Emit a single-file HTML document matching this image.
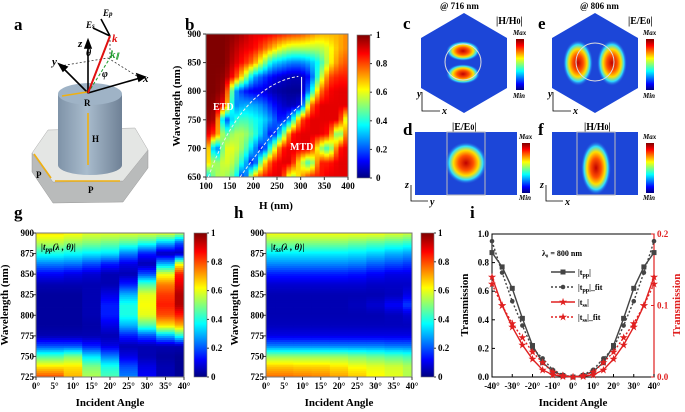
<!DOCTYPE html>
<html><head><meta charset="utf-8"><style>
html,body{margin:0;padding:0;background:#fff;}
svg{display:block;font-family:"Liberation Serif",serif;font-weight:bold;}
</style></head><body>
<svg id="fig" width="685" height="412" viewBox="0 0 685 412" xmlns="http://www.w3.org/2000/svg">
<defs>
<linearGradient id="jetV" x1="0" y1="1" x2="0" y2="0">
<stop offset="0" stop-color="#00007f"/><stop offset="0.12" stop-color="#0000ff"/><stop offset="0.37" stop-color="#00ffff"/><stop offset="0.62" stop-color="#ffff00"/><stop offset="0.87" stop-color="#ff0000"/><stop offset="1" stop-color="#7f0000"/>
</linearGradient>
<linearGradient id="cyl" x1="0" x2="1"><stop offset="0" stop-color="#7f93a8"/><stop offset="0.45" stop-color="#a9bccd"/><stop offset="1" stop-color="#6f8196"/></linearGradient>
<radialGradient id="hot"><stop offset="0" stop-color="#c00000"/><stop offset="0.35" stop-color="#ff5000"/><stop offset="0.6" stop-color="#ffe000"/><stop offset="0.8" stop-color="#30e0ff"/><stop offset="1" stop-color="#2050e0" stop-opacity="0"/></radialGradient>
</defs>

<g>
<text x="14" y="30" font-size="17">a</text>
<polygon points="32,153 53,182 123,181 148,150 148,168 123,202 53,203 32,172" fill="#b9bbbb" stroke="#999" stroke-width="0.5"/>
<polygon points="32,153 48,130 135,128 148,150 123,181 53,182" fill="#e4e6e4" stroke="#aaa" stroke-width="0.5"/>
<path d="M58,94 L58,165 A32,10 0 0 0 122,165 L122,94 Z" fill="url(#cyl)"/>
<ellipse cx="90" cy="94" rx="32" ry="11" fill="#9fb3c6"/>
<g stroke="#333" stroke-width="0.8" stroke-dasharray="2,2" fill="none">
<line x1="60" y1="66" x2="108" y2="58"/><line x1="108" y1="58" x2="140" y2="78"/><line x1="110" y1="36" x2="110" y2="58"/>
</g>
<line x1="88" y1="93" x2="110" y2="58" stroke="#1a9a2a" stroke-width="1" stroke-dasharray="3,2"/>
<g stroke="#000" stroke-width="1.6" fill="#000">
<line x1="88" y1="93" x2="88" y2="44"/><polygon points="88,40 85,48 91,48"/>
<line x1="88" y1="93" x2="62" y2="67"/><polygon points="59,64 67,67 63,71"/>
<line x1="88" y1="93" x2="140" y2="78"/><polygon points="145,77 137,74 139,81"/>
<line x1="110" y1="36" x2="101" y2="19"/><line x1="110" y1="36" x2="93" y2="28"/>
</g>
<line x1="88" y1="93" x2="110" y2="36" stroke="#e01010" stroke-width="2"/>
<g stroke="#f0b010" stroke-width="1.6">
<line x1="62" y1="96" x2="87" y2="92"/><line x1="88" y1="113" x2="88" y2="165"/>
<line x1="34" y1="154" x2="51" y2="178"/><line x1="55" y1="181" x2="120" y2="181"/>
</g>
<g font-size="9" fill="#000">
<text x="84" y="106">R</text><text x="92" y="142">H</text><text x="36" y="178">P</text><text x="88" y="193">P</text>
</g>
<g font-style="italic" font-size="11">
<text x="78" y="47">z</text><text x="52" y="65">y</text><text x="143" y="82">x</text>
<text x="112" y="42" fill="#e01010">k</text><text x="110" y="58" fill="#1a9a2a">k<tspan font-size="7">∥</tspan></text>
<text x="86" y="56" font-size="10">θ</text><text x="102" y="77" font-size="10">φ</text>
<text x="86" y="28" font-size="9">E<tspan font-size="7">s</tspan></text><text x="103" y="16" font-size="9">E<tspan font-size="7">p</tspan></text>
</g>
</g>

<g id="pb"></g>
<g id="pg"></g>
<g id="ph"></g>
<g id="pi"></g>

<g font-size="9">
<text x="403" y="29" font-size="17">c</text>
<text x="538" y="29" font-size="17">e</text>
<text x="403" y="135" font-size="17">d</text>
<text x="538" y="135" font-size="17">f</text>
<text x="440" y="9">@ 716 nm</text>
<text x="580" y="9">@ 806 nm</text>
<text x="496" y="24" font-size="10">|H/H<tspan font-size="8">0</tspan>|</text>
<text x="628" y="24" font-size="10">|E/E<tspan font-size="8">0</tspan>|</text>
<text x="452" y="130" font-size="10">|E/E<tspan font-size="8">0</tspan>|</text>
<text x="584" y="130" font-size="10">|H/H<tspan font-size="8">0</tspan>|</text>
<polygon points="464,13 507,38 507,88 464,113 421,88 421,38" fill="#1c46d8"/>
<ellipse cx="463" cy="51" rx="17" ry="10" fill="url(#hot)"/><ellipse cx="463" cy="74" rx="17" ry="10" fill="url(#hot)"/>
<circle cx="463" cy="62" r="18" fill="none" stroke="#ddd" stroke-width="1"/>
<polygon points="595,13 638,38 638,88 595,113 552,88 552,38" fill="#1c46d8"/>
<ellipse cx="578" cy="63" rx="15" ry="23" fill="url(#hot)"/><ellipse cx="612" cy="63" rx="15" ry="23" fill="url(#hot)"/>
<circle cx="595" cy="62" r="19" fill="none" stroke="#ddd" stroke-width="1"/>
<rect x="415" y="132" width="102" height="63" fill="#1c46d8"/>
<rect x="447" y="132" width="38" height="63" fill="none" stroke="#bbb" stroke-width="1"/>
<circle cx="466" cy="163" r="21" fill="url(#hot)"/>
<rect x="552" y="132" width="86" height="63" fill="#1c46d8"/>
<rect x="577" y="132" width="38" height="63" fill="none" stroke="#bbb" stroke-width="1"/>
<ellipse cx="596" cy="168" rx="15" ry="27" fill="url(#hot)"/>
<rect x="516" y="39" width="8" height="51" fill="url(#jetV)"/><rect x="646" y="39" width="8" height="51" fill="url(#jetV)"/>
<rect x="522" y="143" width="8" height="50" fill="url(#jetV)"/><rect x="646" y="143" width="8" height="50" fill="url(#jetV)"/>
<g font-style="italic" font-size="7">
<text x="513" y="35">Max</text><text x="513" y="98">Min</text><text x="643" y="35">Max</text><text x="643" y="98">Min</text>
<text x="519" y="139">Max</text><text x="519" y="200">Min</text><text x="643" y="139">Max</text><text x="643" y="200">Min</text>
</g>
<g stroke="#000" stroke-width="0.8" fill="none">
<polyline points="422,92 422,111 440,111"/><polyline points="553,92 553,111 571,111"/>
<polyline points="411,185 411,201 428,201"/><polyline points="546,185 546,201 563,201"/>
</g>
<g font-style="italic" font-size="10"><text x="417" y="97">y</text><text x="442" y="114">x</text><text x="548" y="97">y</text><text x="573" y="114">x</text>
<text x="405" y="188">z</text><text x="430" y="205">y</text><text x="540" y="188">z</text><text x="565" y="205">x</text></g>
</g>
</svg>
<script>
// ---------- Panel b data (columns = H, rows = wavelength 900 -> 650) ----------
const bH = [100,120,140,160,180,200,220,240,260,280,300,320,340,360,380,400];
const bWl = [900,875,850,825,800,775,750,725,700,675,650];
const bVals = [
[1,1,1,1,1,1,0.98,0.92,0.85,0.7,0.3],
[1,1,1,1,1,0.98,0.95,0.8,0.15,0.5,0.55],
[1,1,1,0.98,0.95,0.85,0.15,0.45,0.6,0.6,0.55],
[0.98,0.95,0.92,0.85,0.3,0.25,0.4,0.55,0.6,0.55,0.45],
[0.95,0.9,0.85,0.6,0.15,0.3,0.45,0.55,0.5,0.35,0.1],
[0.9,0.88,0.75,0.3,0.1,0.3,0.4,0.45,0.3,0.1,0.7],
[0.9,0.8,0.55,0.2,0.1,0.25,0.35,0.3,0.1,0.6,0.85],
[0.88,0.7,0.35,0.12,0.05,0.15,0.25,0.1,0.5,0.85,0.9],
[0.85,0.6,0.3,0.08,0.03,0.08,0.12,0.4,0.85,0.9,0.9],
[0.82,0.55,0.25,0.05,0.02,0.05,0.3,0.85,0.9,0.9,0.5],
[0.8,0.55,0.25,0.05,0.02,0.1,0.8,0.9,0.9,0.6,0.7],
[0.75,0.55,0.3,0.15,0.3,0.75,0.9,0.9,0.9,0.4,0.85],
[0.7,0.55,0.4,0.5,0.75,0.9,0.9,0.9,0.55,0.85,0.85],
[0.7,0.6,0.6,0.8,0.88,0.9,0.9,0.85,0.4,0.85,0.9],
[0.7,0.7,0.75,0.85,0.9,0.9,0.9,0.4,0.85,0.9,0.9],
[0.75,0.75,0.8,0.85,0.9,0.9,0.5,0.85,0.9,0.9,0.9]];
const bXTicks = [100,150,200,250,300,350,400];
const bYTicks = [650,700,750,800,850,900];

// ---------- Panels g/h data (columns = angle, rows = wavelength 900 -> 725) ----------
const ghAngles = [0,5,10,15,20,25,30,35,40];
const ghWl = [900,887.5,875,862.5,850,837.5,825,812.5,800,787.5,775,762.5,750,737.5,725];
const gVals = [
[0.65,0.55,0.4,0.25,0.12,0.05,0.03,0.03,0.03,0.03,0.05,0.2,0.45,0.65,0.8],
[0.65,0.55,0.4,0.25,0.12,0.05,0.03,0.03,0.03,0.03,0.05,0.2,0.45,0.65,0.8],
[0.63,0.52,0.38,0.24,0.1,0.05,0.03,0.03,0.03,0.03,0.05,0.2,0.5,0.65,0.7],
[0.6,0.5,0.36,0.2,0.08,0.05,0.05,0.05,0.05,0.04,0.05,0.15,0.35,0.5,0.55],
[0.6,0.48,0.35,0.15,0.05,0.05,0.1,0.15,0.15,0.1,0.05,0.1,0.25,0.4,0.45],
[0.6,0.45,0.25,0.1,0.05,0.15,0.3,0.4,0.4,0.3,0.15,0.05,0.1,0.2,0.25],
[0.6,0.4,0.15,0.05,0.2,0.45,0.6,0.62,0.6,0.45,0.2,0.05,0.05,0.1,0.12],
[0.6,0.3,0.05,0.3,0.6,0.75,0.82,0.85,0.8,0.65,0.3,0.05,0.03,0.05,0.05],
[0.55,0.2,0.05,0.6,0.85,0.9,0.95,0.95,0.85,0.7,0.4,0.05,0.02,0.02,0.02]];
const hVals = [
[0.62,0.5,0.36,0.26,0.15,0.08,0.05,0.05,0.05,0.06,0.1,0.25,0.52,0.68,0.77],
[0.62,0.5,0.36,0.26,0.15,0.08,0.05,0.05,0.05,0.06,0.1,0.25,0.52,0.68,0.77],
[0.62,0.5,0.36,0.26,0.15,0.08,0.05,0.05,0.05,0.06,0.1,0.25,0.52,0.67,0.76],
[0.62,0.5,0.36,0.26,0.15,0.08,0.05,0.05,0.05,0.06,0.1,0.25,0.52,0.67,0.75],
[0.62,0.5,0.36,0.26,0.15,0.08,0.05,0.05,0.05,0.06,0.1,0.25,0.52,0.65,0.72],
[0.62,0.48,0.35,0.25,0.14,0.08,0.05,0.06,0.05,0.06,0.1,0.25,0.5,0.62,0.68],
[0.62,0.46,0.33,0.22,0.12,0.07,0.05,0.08,0.05,0.06,0.1,0.25,0.48,0.6,0.63],
[0.6,0.44,0.3,0.2,0.1,0.07,0.06,0.12,0.06,0.06,0.1,0.24,0.46,0.58,0.6],
[0.58,0.42,0.28,0.18,0.1,0.07,0.1,0.18,0.08,0.06,0.1,0.24,0.44,0.55,0.55]];
const ghXTicks = [0,5,10,15,20,25,30,35,40];
const ghYTicks = [725,750,775,800,825,850,875,900];

// ---------- Panel i data ----------
const iAngles = [-40,-35,-30,-25,-20,-15,-10,-5,0,5,10,15,20,25,30,35,40];
const tpp = [0.87,0.77,0.62,0.41,0.22,0.10,0.04,0.01,0.0,0.01,0.04,0.10,0.22,0.41,0.62,0.77,0.87];
const tppFit = [0.95,0.73,0.53,0.36,0.20,0.13,0.05,0.015,0.0,0.015,0.05,0.13,0.20,0.36,0.53,0.73,0.95];
const tss = [0.14,0.10,0.07,0.045,0.025,0.01,0.003,0.001,0,0.001,0.003,0.01,0.025,0.045,0.07,0.10,0.14];
const tssFit = [0.13,0.10,0.075,0.055,0.035,0.02,0.007,0.002,0,0.002,0.007,0.02,0.035,0.055,0.075,0.10,0.13];
const iXTicks = [-40,-30,-20,-10,0,10,20,30,40];
const iYTicksL = [0,0.2,0.4,0.6,0.8,1.0];
const iYTicksR = [0,0.1,0.2];

const NS='http://www.w3.org/2000/svg';
function mk(parent,tag,attrs,text){const e=document.createElementNS(NS,tag);for(const k in attrs)e.setAttribute(k,attrs[k]);if(text!==undefined)e.textContent=text;parent.appendChild(e);return e;}
function jet(v){const c=x=>Math.round(255*Math.max(0,Math.min(1,x)));return `rgb(${c(1.5-Math.abs(4*v-3))},${c(1.5-Math.abs(4*v-2))},${c(1.5-Math.abs(4*v-1))})`;}
// linear interpolation of a column profile (rows descending)
function interpRow(rows,col,w){
  if(w>=rows[0])return col[0];
  for(let j=0;j<rows.length-1;j++){if(w<=rows[j]&&w>=rows[j+1]){const t=(rows[j]-w)/(rows[j]-rows[j+1]);return col[j]*(1-t)+col[j+1]*t;}}
  return col[col.length-1];
}
function interpCol(cols,vals,rows,h,w){
  if(h<=cols[0])return interpRow(rows,vals[0],w);
  for(let i=0;i<cols.length-1;i++){if(h>=cols[i]&&h<=cols[i+1]){const t=(h-cols[i])/(cols[i+1]-cols[i]);return interpRow(rows,vals[i],w)*(1-t)+interpRow(rows,vals[i+1],w)*t;}}
  return interpRow(rows,vals[vals.length-1],w);
}
function frame(g,x,y,w,h,col){const f=mk(g,'rect',{x:x,y:y,width:w,height:h,fill:'none',stroke:col||'#777','stroke-width':1});}
function cbar(g,x,y,w,h,lx){
  const r=mk(g,'rect',{x:x,y:y,width:w,height:h,fill:'url(#jetV)',stroke:'#777','stroke-width':0.6});
  
  
  ['0','0.2','0.4','0.6','0.8','1'].forEach((t,i)=>{const yy=y+h-i*h/5;mk(g,'line',{x1:x+w,x2:x+w+2,y1:yy,y2:yy,stroke:'#333'});
    const tl=mk(g,'text',{x:lx,y:yy+3,'font-size':9},t);});
}
function ylabel(g,x,y,t,col){const e=mk(g,'text',{x:x,y:y,'font-size':11,'text-anchor':'middle',transform:`rotate(-90 ${x} ${y})`,fill:col||'#000'},t);}
function xlabel(g,x,y,t){const e=mk(g,'text',{x:x,y:y,'font-size':11,'text-anchor':'middle'},t);}

// ---- Panel b ----
(function(){
  const g=document.getElementById('pb');
  const xs=h=>206+(h-100)/300*142, ys=w=>34+(900-w)/250*143;
  mk(g,'text',{x:185,y:30,'font-size':17},'b');
  const stepH=10, stepW=2.5;
  for(let h=100;h<400;h+=stepH){
    for(let w=900;w>650;w-=stepW){
      const v=interpCol(bH,bVals,bWl,h+stepH/2,w-stepW/2);
      const el=mk(g,'rect',{x:xs(h),y:ys(w),width:xs(h+stepH)-xs(h)+0.4,height:ys(w-stepW)-ys(w)+0.4,fill:jet(v)});
      
      
    }
  }
  frame(g,206,34,142,143);
  bXTicks.forEach(t=>{mk(g,'line',{x1:xs(t),x2:xs(t),y1:177,y2:180,stroke:'#333'});const e=mk(g,'text',{x:xs(t),y:189,'font-size':9,'text-anchor':'middle'},t);});
  bYTicks.forEach(t=>{mk(g,'line',{x1:203,x2:206,y1:ys(t),y2:ys(t),stroke:'#333'});const e=mk(g,'text',{x:201,y:ys(t)+3,'font-size':9,'text-anchor':'end'},t);});
  cbar(g,357,35,13,143,376);
  ylabel(g,180,106,'Wavelength (nm)');xlabel(g,276,209,'H (nm)');
  mk(g,'path',{d:`M${xs(105)},${ys(650)} Q${xs(175)},${ys(810)} ${xs(295)},${ys(826)}`,fill:'none',stroke:'#eee','stroke-dasharray':'3,2','stroke-width':1});
  mk(g,'path',{d:`M${xs(172)},${ys(650)} Q${xs(240)},${ys(730)} ${xs(298)},${ys(775)}`,fill:'none',stroke:'#eee','stroke-dasharray':'3,2','stroke-width':1});
  mk(g,'line',{x1:xs(302),x2:xs(302),y1:ys(825),y2:ys(775),stroke:'#fff','stroke-width':1});
  mk(g,'text',{x:213,y:110,'font-size':10,fill:'#fff'},'ETD');
  mk(g,'text',{x:290,y:150,'font-size':10,fill:'#fff'},'MTD');
})();

// ---- Panels g and h ----
function ghPanel(id,x0,w,vals,label,lab,cbx,title){
  const g=document.getElementById(id);
  const xs=a=>x0+a/40*w, ys=v=>233+(900-v)/175*144;
  mk(g,'text',{x:lab,y:218,'font-size':17},label);
  ghAngles.forEach((a,i)=>{
    const a0=Math.max(0,a-2.5), a1=Math.min(40,a+2.5);
    for(let wl=900;wl>725;wl-=2.5){
      const v=interpRow(ghWl,vals[i],wl-1.25);
      const el=mk(g,'rect',{x:xs(a0),y:ys(wl),width:xs(a1)-xs(a0)+0.4,height:ys(wl-2.5)-ys(wl)+0.4,fill:jet(v)});
      
      
    }
  });
  frame(g,x0,233,w,144);
  ghXTicks.forEach(t=>{mk(g,'line',{x1:xs(t),x2:xs(t),y1:377,y2:380,stroke:'#333'});const e=mk(g,'text',{x:xs(t),y:389,'font-size':9,'text-anchor':'middle'},t+'°');});
  ghYTicks.forEach(t=>{mk(g,'line',{x1:x0-3,x2:x0,y1:ys(t),y2:ys(t),stroke:'#333'});const e=mk(g,'text',{x:x0-2,y:ys(t)+3,'font-size':9,'text-anchor':'end'},t);});
  cbar(g,cbx,233,13,144,cbx+17);
  ylabel(g,x0-28,305,'Wavelength (nm)');xlabel(g,x0+w/2,406,'Incident Angle');
  const t=mk(g,'text',{x:x0+5,y:250,'font-size':9,'font-style':'italic'});t.innerHTML=title;
  
}
ghPanel('pg',36,148,gVals,'g',14,194,'|t<tspan font-size="7" dy="2">pp</tspan><tspan dy="-2">(λ , θ)|</tspan>');
ghPanel('ph',266,146,hVals,'h',234,421,'|t<tspan font-size="7" dy="2">ss</tspan><tspan dy="-2">(λ , θ)|</tspan>');

// ---- Panel i ----
(function(){
  const g=document.getElementById('pi');
  const xs=a=>492+(a+40)/80*162, yl=v=>377-v*143, yr=v=>377-v/0.2*143;
  mk(g,'text',{x:470,y:218,'font-size':17},'i');
  mk(g,'rect',{x:492,y:234,width:162,height:143,fill:'none',stroke:'#000','stroke-width':1});
  mk(g,'line',{x1:654,x2:654,y1:234,y2:377,stroke:'#e02020','stroke-width':1.2});
  iXTicks.forEach(t=>{mk(g,'line',{x1:xs(t),x2:xs(t),y1:377,y2:374,stroke:'#000'});const e=mk(g,'text',{x:xs(t),y:389,'font-size':9,'text-anchor':'middle'},t+'°');});
  iYTicksL.forEach(t=>{mk(g,'line',{x1:492,x2:495,y1:yl(t),y2:yl(t),stroke:'#000'});const e=mk(g,'text',{x:489,y:yl(t)+3,'font-size':9,'text-anchor':'end'},t.toFixed(1));});
  iYTicksR.forEach(t=>{mk(g,'line',{x1:651,x2:654,y1:yr(t),y2:yr(t),stroke:'#e02020'});const e=mk(g,'text',{x:657,y:yr(t)+3,'font-size':9,fill:'#e02020'},t.toFixed(1));});
  ylabel(g,468,305,'Transmission');ylabel(g,680,305,'Transmission','#e02020');xlabel(g,573,406,'Incident Angle');
  const series=[[tpp,yl,'#444','none','sq','tpp'],[tppFit,yl,'#444','2,2','ci','tpp-fit'],[tss,yr,'#e02020','none','st','tss'],[tssFit,yr,'#e02020','2,2','st','tss-fit']];
  series.forEach(([d,ys,col,dash,m,name])=>{
    const p=mk(g,'polyline',{points:iAngles.map((a,i)=>xs(a)+','+ys(d[i])).join(' '),fill:'none',stroke:col,'stroke-width':1.4,'stroke-dasharray':dash});
    
    
    iAngles.forEach((a,i)=>{let e;const X=xs(a),Y=ys(d[i]);
      if(m==='sq')e=mk(g,'rect',{x:X-2.5,y:Y-2.5,width:5,height:5,fill:col});
      else if(m==='ci')e=mk(g,'circle',{cx:X,cy:Y,r:2.3,fill:col});
      else e=mk(g,'text',{x:X,y:Y+3,'font-size':9,'text-anchor':'middle',fill:col},'★');
      
      });
  });
  mk(g,'text',{x:542,y:256,'font-size':8},'λ₀ = 800 nm');
  const leg=[['#444','none','sq','|t','pp','|'],['#444','2,2','ci','|t','pp','|_fit'],['#e02020','none','st','|t','ss','|'],['#e02020','2,2','st','|t','ss','|_fit']];
  leg.forEach(([col,dash,m,a,s,b],k)=>{const y=272+k*15;
    mk(g,'line',{x1:551,x2:575,y1:y,y2:y,stroke:col,'stroke-width':1.4,'stroke-dasharray':dash});
    if(m==='sq')mk(g,'rect',{x:560.5,y:y-2.5,width:5,height:5,fill:col});else if(m==='ci')mk(g,'circle',{cx:563,cy:y,r:2.3,fill:col});else mk(g,'text',{x:563,y:y+3,'font-size':9,'text-anchor':'middle',fill:col},'★');
    const t=mk(g,'text',{x:578,y:y+3,'font-size':8});t.innerHTML=`${a}<tspan font-size="6" dy="2">${s}</tspan><tspan dy="-2">${b}</tspan>`;
    
    });
})();
</script>
</body></html>
